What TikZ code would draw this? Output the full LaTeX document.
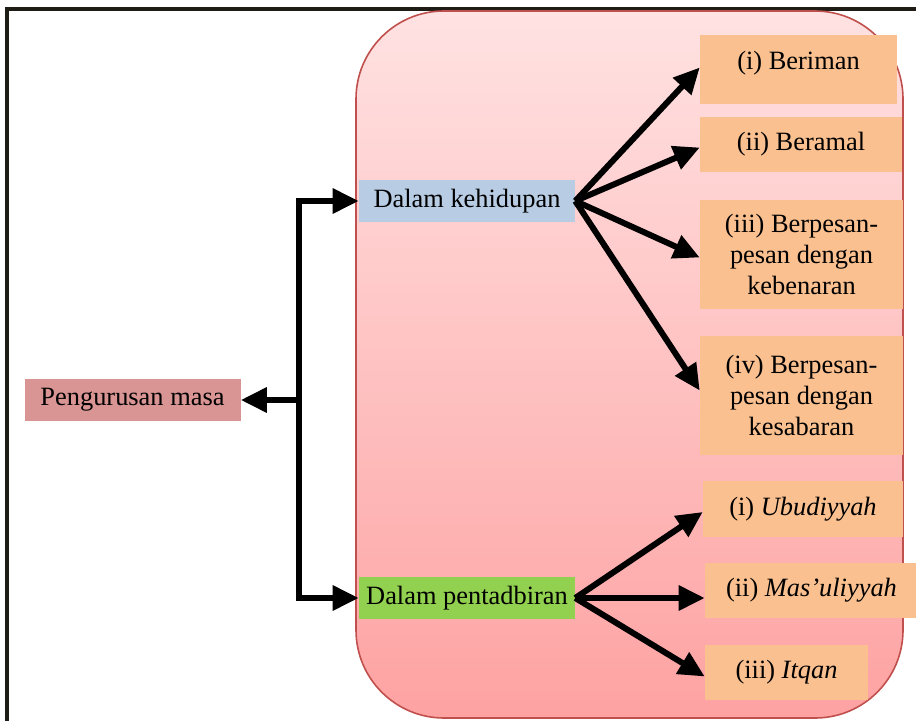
\documentclass[tikz,border=0pt]{standalone}
\usepackage{fontspec}
\setmainfont{Liberation Serif}
\usepackage{tikz}
\usetikzlibrary{arrows.meta,positioning,calc}

\definecolor{panelTop}{RGB}{255,226,226}
\definecolor{panelBot}{RGB}{254,162,162}
\definecolor{panelLine}{RGB}{192,80,77}
\definecolor{masaFill}{RGB}{217,149,148}
\definecolor{hidupFill}{RGB}{184,204,228}
\definecolor{tadbirFill}{RGB}{146,208,80}
\definecolor{itemFill}{RGB}{250,192,144}
\definecolor{frameLine}{RGB}{30,28,20}

\begin{document}
\begin{tikzpicture}[
        x=0.75pt, y=-0.75pt,
        every node/.style={font=\fontsize{19.8}{23.3}\selectfont, inner sep=0pt, align=center},
        box/.style={rectangle, minimum width=162pt, minimum height=31.5pt},
        item/.style={rectangle, fill=itemFill},
        fat/.style={line width=4.5pt, -{Triangle[length=19.5pt,width=18pt]}},
        fatline/.style={line width=4.5pt}
    ]
        \useasboundingbox (0,0) rectangle (916,720);

        % outer frame, cut by the page edge
        \begin{scope}
            \clip (0,0) rectangle (916,720);
            \draw[frameLine, line width=3pt] (6.5,9) rectangle (940,745);
        \end{scope}

        % pink panel
        \draw[panelLine, line width=1.2pt, rounded corners=66pt, top color=panelTop, bottom color=panelBot]
            (356,11) rectangle (903,718);

        % Main node
        \node[box, fill=masaFill] (masa) at (132.5,400) {Pengurusan masa};

        % Two areas
        \node[box, fill=hidupFill] (hidup) at (467,201) {Dalam kehidupan};
        \node[box, fill=tadbirFill] (tadbir) at (467,598) {Dalam pentadbiran};

        % Items of Dalam kehidupan
        \node[item, minimum width=147.75pt, minimum height=51.75pt, text depth=14pt] (beriman) at (798.5,69.5) {(i) Beriman};
        \node[item, minimum width=151.5pt, minimum height=41.25pt] (beramal) at (801,144.5) {(ii) Beramal};
        \node[item, minimum width=152.25pt, minimum height=81.75pt] (benar) at (801.5,254.5) {(iii) Berpesan-\\pesan dengan\\kebenaran};
        \node[item, minimum width=152.25pt, minimum height=89.25pt] (sabar) at (801.5,395.5) {(iv) Berpesan-\\pesan dengan\\kesabaran};

        % Items of Dalam pentadbiran
        \node[item, minimum width=150pt, minimum height=42pt] (ubud) at (803,509) {(i) \textit{Ubudiyyah}};
        \node[item, minimum width=159.75pt, minimum height=41.25pt] (masul) at (811.5,590.5) {(ii) \textit{Mas’uliyyah}};
        \node[item, minimum width=122.25pt, minimum height=41.25pt] (itqan) at (786.5,672.5) {(iii) \textit{Itqan}};

        % Left bracket
        \path (hidup.west) ++(-60,0) coordinate (jtop);
        \path (tadbir.west) ++(-60,0) coordinate (jbot);
        \coordinate (jmid) at (jtop |- masa.east);
        \draw[fatline, {Triangle[length=19.5pt,width=18pt]}-{Triangle[length=19.5pt,width=18pt]}]
            (tadbir.west) -- (jbot) -- (jtop) -- (hidup.west);
        \draw[fat] (jmid) -- (masa.east);

        % Arrows
        \draw[fat] (hidup.east) -- ($(beriman.west)+(0,-2)$);
        \draw[fat] (hidup.east) -- ($(beramal.west)+(0,3)$);
        \draw[fat] (hidup.east) -- ($(benar.west)+(0,3)$);
        \draw[fat] (hidup.east) -- ($(sabar.west)+(0,-5)$);

        \draw[fat] (tadbir.east) -- ($(ubud.west)+(0,3)$);
        \draw[fat] (tadbir.east) -- (masul.west |- tadbir.east);
        \draw[fat] (tadbir.east) -- ($(itqan.west)+(0,4)$);
    \end{tikzpicture}
\end{document}
